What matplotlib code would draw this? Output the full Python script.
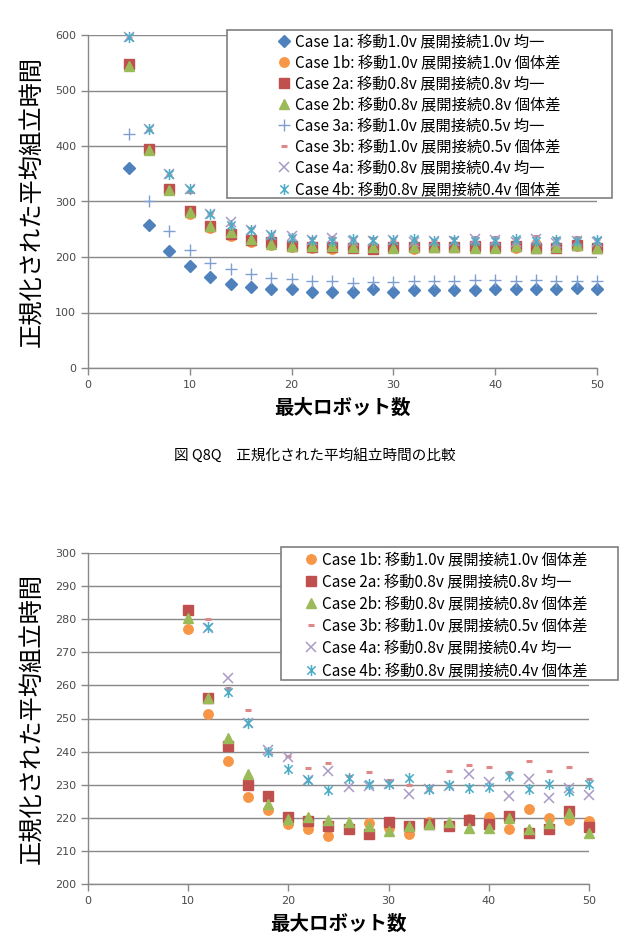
import matplotlib
matplotlib.use("Agg")
import matplotlib.pyplot as plt
from matplotlib.path import Path
from matplotlib.patches import Rectangle

plt.rcParams['font.family'] = ['Noto Sans CJK JP', 'DejaVu Sans']

# ---------------- data ----------------
x_top = [4, 6, 8, 10, 12, 14, 16, 18, 20, 22, 24, 26, 28, 30, 32, 34, 36, 38, 40, 42, 44, 46, 48, 50]
case1a = [361, 258, 211, 184, 164, 152, 146, 143, 142, 137, 137, 137, 142, 137, 141, 140, 141, 141, 142, 142, 142, 143, 145, 143]
case3a = [422, 301, 246, 212, 190, 178, 169, 163, 161, 157, 157, 154, 155, 155, 156, 156, 156, 158, 158, 157, 158, 157, 156, 157]

x_all = [4, 6, 8, 10, 12, 14, 16, 18, 20, 22, 24, 26, 28, 30, 32, 34, 36, 38, 40, 42, 44, 46, 48, 50]
case1b = [545, 393, 320, 277.1, 251.5, 237.2, 226.3, 222.5, 218.1, 216.6, 214.4, 216.8, 218.3, 217.0, 215.1, 218.8, 217.6, 219.5, 220.1, 216.7, 222.6, 219.8, 219.2, 218.9]
case2a = [548, 395, 323, 282.7, 256.1, 241.7, 230.0, 226.6, 220.1, 218.9, 217.5, 216.5, 215.2, 218.6, 217.4, 218.1, 217.5, 219.4, 218.0, 220.4, 215.4, 216.7, 222.1, 217.1]
case2b = [544, 392, 320, 280.4, 256.3, 244.2, 233.2, 224.1, 219.6, 220.2, 219.3, 218.8, 217.5, 216.0, 217.4, 218.1, 218.8, 216.8, 216.8, 219.9, 216.7, 218.5, 221.4, 215.5]
case3b = [594, 428, 348, 318, 280.0, 259.3, 252.6, 240.2, 238.7, 235.1, 236.7, 232.7, 233.8, 231.3, 230.0, 229.0, 234.0, 235.9, 235.2, 233.9, 237.3, 234.0, 235.2, 231.6]
case4a = [597, 431, 350, 322, 277.2, 262.3, 248.7, 240.4, 238.4, 231.4, 234.1, 229.2, 229.5, 230.2, 227.3, 228.8, 229.6, 233.1, 230.7, 226.5, 231.6, 226.1, 229.1, 226.9]
case4b = [596, 430, 350, 322, 277.6, 258.1, 248.7, 240.0, 234.7, 231.5, 228.5, 232.0, 230.2, 230.1, 232.1, 228.8, 229.8, 229.0, 229.3, 232.6, 228.7, 230.1, 228.1, 230.1]

labels = {
    '1a': 'Case 1a: 移動1.0v 展開接続1.0v 均一',
    '1b': 'Case 1b: 移動1.0v 展開接続1.0v 個体差',
    '2a': 'Case 2a: 移動0.8v 展開接続0.8v 均一',
    '2b': 'Case 2b: 移動0.8v 展開接続0.8v 個体差',
    '3a': 'Case 3a: 移動1.0v 展開接続0.5v 均一',
    '3b': 'Case 3b: 移動1.0v 展開接続0.5v 個体差',
    '4a': 'Case 4a: 移動0.8v 展開接続0.4v 均一',
    '4b': 'Case 4b: 移動0.8v 展開接続0.4v 個体差',
}
top_yticks = [0, 100, 200, 300, 400, 500, 600]
bot_yticks = [200, 210, 220, 230, 240, 250, 260, 270, 280, 290, 300]
xticks = [0, 10, 20, 30, 40, 50]
ylabel = '正規化された平均組立時間'
xlabel = '最大ロボット数'
caption = '図 Q8Q　正規化された平均組立時間の比較'

# ---------------- styles ----------------
ast = Path([(0, -1), (0, 1), (-0.75, -0.75), (0.75, 0.75), (-0.75, 0.75), (0.75, -0.75)],
           [Path.MOVETO, Path.LINETO, Path.MOVETO, Path.LINETO, Path.MOVETO, Path.LINETO])
styles = {
    '1a': dict(marker='D', color='#4F81BD', ms=5.8, mec='#4F81BD'),
    '1b': dict(marker='o', color='#F79646', ms=6.8, mec='#F79646'),
    '2a': dict(marker='s', color='#C0504D', ms=6.5, mec='#C0504D'),
    '2b': dict(marker='^', color='#9BBB59', ms=7.0, mec='#9BBB59'),
    '3a': dict(marker='+', color='#7F9FD0', ms=8, mew=1.0),
    '3b': dict(marker='_', color='#E0878A', ms=4.5, mew=2.2),
    '4a': dict(marker='x', color='#A99BC8', ms=7.5, mew=1.1),
    '4b': dict(marker=ast, color='#4BACC6', ms=8, mew=1.1),
}

fig = plt.figure(figsize=(6.19, 9.5), dpi=100)
ax1 = fig.add_axes([88/619, 1-368/950, (597-88)/619, (368-35)/950])
ax2 = fig.add_axes([88/619, 1-884/950, (589-88)/619, (884-553)/950])

grid_c = '#898989'
tick_c = '#4A4A4A'

def style_axes(ax, yticks):
    ax.set_xlim(0, 50)
    ax.set_ylim(yticks[0], yticks[-1])
    ax.set_xticks(xticks)
    ax.set_yticks(yticks)
    ax.yaxis.grid(True, color=grid_c, lw=1.0)
    ax.set_axisbelow(True)
    for s in ['top', 'right']:
        ax.spines[s].set_visible(False)
    for s in ['left', 'bottom']:
        ax.spines[s].set_color(grid_c)
        ax.spines[s].set_linewidth(1.0)
    ax.tick_params(axis='both', direction='out', color=grid_c, length=5, width=1.0,
                   labelsize=8, labelcolor=tick_c)
    for t in ax.get_xticklabels() + ax.get_yticklabels():
        t.set_family('DejaVu Sans')
    ax.set_ylabel(ylabel, fontsize=17.5, fontweight='normal', labelpad=7)
    ax.set_xlabel(xlabel, fontsize=14, fontweight='bold', labelpad=6)

handles = {}
for key, ys, xs in [('1a', case1a, x_top), ('1b', case1b, x_all), ('2a', case2a, x_all),
                    ('2b', case2b, x_all), ('3a', case3a, x_top), ('3b', case3b, x_all),
                    ('4a', case4a, x_all), ('4b', case4b, x_all)]:
    st = styles[key]
    h, = ax1.plot(xs, ys, ls='none', label=labels[key], clip_on=False, **st)
    handles[key] = h

style_axes(ax1, top_yticks)

bot_handles = []
for key, ys in [('1b', case1b), ('2a', case2a), ('2b', case2b), ('3b', case3b),
                ('4a', case4a), ('4b', case4b)]:
    st = styles[key]
    xs_in = [x for x, y in zip(x_all, ys) if y <= 300]
    ys_in = [y for y in ys if y <= 300]
    h, = ax2.plot(xs_in, ys_in, ls='none', label=labels[key], clip_on=False, **st)
    bot_handles.append(h)

style_axes(ax2, bot_yticks)

# legends
fig.patches.append(Rectangle((227/619, 1-198/950), (612-227)/619, (198-30)/950,
                             transform=fig.transFigure, fill=True, facecolor='white',
                             edgecolor='#7F7F7F', lw=1.2, zorder=5))
leg1 = fig.legend(list(handles.values()), [labels[k] for k in handles], loc='upper left',
                  bbox_to_anchor=(275/619, 1-30/950), frameon=False, fontsize=11,
                  handlelength=0.8, handletextpad=0.3, labelspacing=0.27, borderpad=0.2,
                  borderaxespad=0)
leg1.set_zorder(6)

fig.patches.append(Rectangle((281/619, 1-680/950), (618-281)/619, (680-547)/950,
                             transform=fig.transFigure, fill=True, facecolor='white',
                             edgecolor='#7F7F7F', lw=1.2, zorder=5))
leg2 = fig.legend(bot_handles, [h.get_label() for h in bot_handles], loc='upper left',
                  bbox_to_anchor=(302/619, 1-548/950), frameon=False, fontsize=11,
                  handlelength=0.8, handletextpad=0.3, labelspacing=0.34, borderpad=0.2,
                  borderaxespad=0)
leg2.set_zorder(6)

fig.text(315/619, 1-455/950, caption, ha='center', va='center', fontsize=10.5)

fig.savefig('out.png', dpi=100)
